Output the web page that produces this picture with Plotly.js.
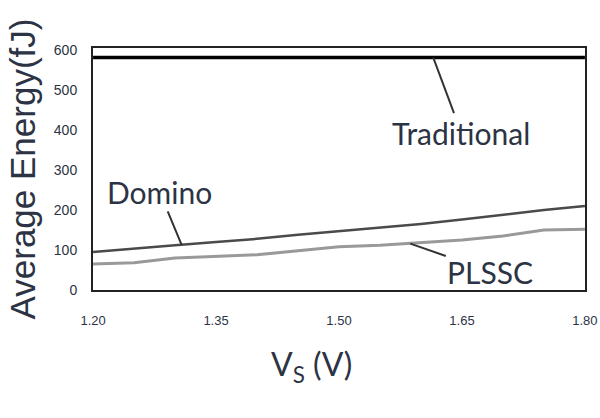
<!DOCTYPE html>
<html><head><meta charset="utf-8">
<script src="https://cdn.plot.ly/plotly-3.0.1.min.js"></script>
<style>html,body{margin:0;padding:0;background:#fff}#chart{width:600px;height:418px}</style>
</head><body><div id="chart"></div>
<script>
const vs = [1.20, 1.25, 1.30, 1.35, 1.40, 1.45, 1.50, 1.55, 1.60, 1.65, 1.70, 1.75, 1.80];
const traditional = [581, 581, 581, 581, 581, 581, 581, 581, 581, 581, 581, 581, 581];
const domino = [95, 104, 112, 120, 128, 138, 147, 156, 165, 176, 188, 200, 210];
const plssc = [65, 68, 80, 84, 88, 98, 108, 112, 118, 125, 135, 150, 152];
const xTicks = [1.20, 1.35, 1.50, 1.65, 1.80];
const xTickText = ['1.20', '1.35', '1.50', '1.65', '1.80'];
const yTicks = [0, 100, 200, 300, 400, 500, 600];

const labelFont = 'Lato, "Open Sans", sans-serif';
const tickFamily = '"Liberation Sans", Arial, sans-serif';
const txtColor = '#2c3344';

const traces = [
  {x: vs, y: traditional, mode: 'lines', name: 'Traditional', line: {color: '#000', width: 3.5}},
  {x: vs, y: domino, mode: 'lines', name: 'Domino', line: {color: '#4a4a4a', width: 2.5}},
  {x: vs, y: plssc, mode: 'lines', name: 'PLSSC', line: {color: '#999', width: 3}}
];

const layout = {
  width: 600, height: 418,
  margin: {l: 93, r: 15, t: 48, b: 128},
  showlegend: false,
  paper_bgcolor: '#fff', plot_bgcolor: '#fff',
  xaxis: {
    range: [1.1999, 1.8001], tickvals: xTicks, ticktext: xTickText,
    showgrid: false, zeroline: false, showline: true, mirror: true,
    linecolor: '#222', linewidth: 2, ticks: '',
    tickfont: {family: tickFamily, size: 13, color: txtColor},
    ticklabelstandoff: 17, ticklabeloverflow: 'allow'
  },
  yaxis: {
    range: [0, 605], tickvals: yTicks,
    showgrid: false, zeroline: false, showline: true, mirror: true,
    linecolor: '#222', linewidth: 2, ticks: '',
    tickfont: {family: tickFamily, size: 14, color: txtColor},
    ticklabelstandoff: 11, ticklabeloverflow: 'allow',
    title: {text: 'Average Energy(fJ)', font: {family: tickFamily, size: 35, color: txtColor}, standoff: 8}
  },
  annotations: [
    {x: 1.615, y: traditional[0], text: 'Traditional', showarrow: true, arrowhead: 0, arrowwidth: 2, arrowcolor: '#333',
     ax: 28, ay: 75, font: {family: labelFont, size: 30, color: txtColor}},
    {x: 1.308, y: 113, text: 'Domino', showarrow: true, arrowhead: 0, arrowwidth: 2, arrowcolor: '#333',
     ax: -22, ay: -53, font: {family: labelFont, size: 30, color: txtColor}},
    {x: 1.587, y: 116, text: 'PLSSC', showarrow: true, arrowhead: 0, arrowwidth: 2, arrowcolor: '#333',
     ax: 80, ay: 28, font: {family: labelFont, size: 30, color: txtColor}},
    {xref: 'paper', yref: 'paper', x: 0.445, y: -0.413, text: 'V<sub>S</sub> (V)', showarrow: false,
     font: {family: labelFont, size: 32, color: txtColor}}
  ]
};

Plotly.newPlot('chart', traces, layout, {staticPlot: true, displayModeBar: false});
</script></body></html>
